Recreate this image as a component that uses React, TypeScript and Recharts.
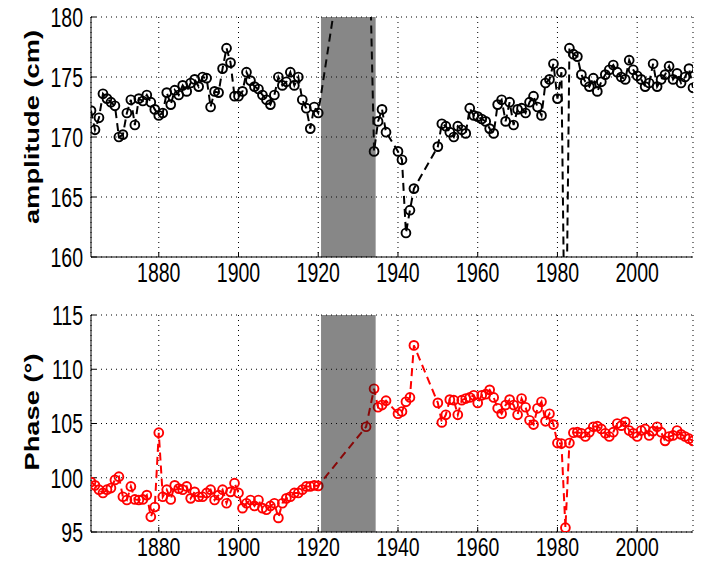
import React from 'react';
import { LineChart, Line, XAxis, YAxis, CartesianGrid, ReferenceArea } from 'recharts';

// consecutive years of a record span
const span = (a: number, b: number) => Array.from({ length: b - a + 1 }, (_, i) => a + i);

const YEARS = [...span(1863, 1920), 1932, ...span(1934, 1937), ...span(1940, 1944), ...span(1950, 2014)];

// amplitude (cm), same order as YEARS
const AMP_EARLY = [
  172.2, 170.6, 171.6, 173.6, 173.2, 172.9, 172.6, 170.0, 170.2, 172.0,
  173.1, 171.0, 173.2, 173.0, 173.5, 172.9, 172.3, 171.8, 172.0, 173.7,
  172.7, 173.9, 173.5, 174.3, 173.8, 174.5, 174.8, 174.2, 175.0, 174.9,
  172.5, 173.8, 173.7, 175.7, 177.4, 176.2, 173.4, 173.4, 173.8, 175.4,
  174.7, 174.2, 174.0, 173.5, 173.1, 172.7, 173.5, 175.0, 174.3, 174.6,
  175.4, 174.3, 175.0, 173.1, 172.4, 170.7, 172.5, 172.0,
];
const AMP_1932 = [198];
const AMP_1934 = [168.8, 171.3, 172.3, 170.4];
const AMP_1940 = [168.8, 168.1, 162.0, 163.9, 165.7];
const AMP_LATE = [
  169.2, 171.1, 170.9, 170.4, 170.0, 170.9, 170.6, 170.3, 172.4, 171.8,
  171.7, 171.5, 171.3, 170.7, 170.3, 172.7, 173.1, 171.3, 172.9, 171.0,
  172.3, 172.4, 172.0, 172.9, 173.4, 172.5, 171.8, 174.5, 174.8, 176.1,
  173.2, 175.4, 147.0, 177.4, 176.9, 176.7, 175.2, 174.6, 174.2, 174.9,
  173.8, 174.6, 175.2, 175.6, 176.0, 175.4, 175.0, 174.8, 176.4, 175.6,
  175.1, 174.8, 174.2, 174.5, 176.1, 174.2, 174.8, 175.2, 175.9, 174.8,
  175.3, 174.5, 175.0, 175.7, 174.1,
];

// phase (degrees)
const PHASE_EARLY = [
  99.6, 99.3, 98.9, 98.6, 98.9, 99.05, 99.8, 100.1, 98.25, 97.95,
  99.2, 98.0, 97.95, 98.0, 98.4, 96.4, 97.3, 104.15, 98.25, 98.9,
  98.0, 99.3, 99.0, 98.9, 99.2, 98.1, 98.7, 98.25, 98.25, 98.6,
  98.9, 97.95, 98.4, 98.9, 97.65, 98.7, 99.5, 98.6, 97.2, 97.65,
  97.95, 97.4, 97.95, 97.2, 97.05, 97.4, 97.65, 96.3, 97.65, 98.1,
  98.25, 98.6, 98.6, 98.9, 99.2, 99.2, 99.3, 99.25,
];
const PHASE_1932 = [104.7];
const PHASE_1934 = [108.2, 106.5, 106.7, 107.1];
const PHASE_1940 = [105.9, 106.1, 107.0, 107.4, 112.2];
const PHASE_LATE = [
  106.9, 105.1, 105.8, 107.2, 107.15, 105.8, 107.15, 107.3, 107.4, 107.6,
  106.9, 107.6, 107.7, 108.1, 107.4, 106.4, 105.9, 106.7, 107.2, 106.7,
  105.8, 107.3, 106.5, 105.3, 104.9, 106.4, 107.0, 105.2, 105.9, 104.9,
  103.2, 103.15, 95.4, 103.2, 104.15, 104.2, 104.1, 103.8, 104.2, 104.7,
  104.75, 104.5, 104.1, 103.8, 104.2, 105.0, 104.8, 105.15, 104.35, 104.1,
  103.8, 104.35, 104.5, 103.9, 104.3, 104.7, 104.2, 103.4, 103.8, 103.9,
  104.35, 104.0, 103.8, 103.6, 103.4,
];

const YEAR_TICKS = [1880, 1900, 1920, 1940, 1960, 1980, 2000];
const AMP_TICKS = [160, 165, 170, 175, 180];
const PHASE_TICKS = [95, 100, 105, 110, 115];

const AMP = [...AMP_EARLY, ...AMP_1932, ...AMP_1934, ...AMP_1940, ...AMP_LATE];
const PHASE = [...PHASE_EARLY, ...PHASE_1932, ...PHASE_1934, ...PHASE_1940, ...PHASE_LATE];
const DATA = YEARS.map((year, i) => ({ year, amp: AMP[i], phase: PHASE[i] }));

const FONT = '"Liberation Sans", Arial, Helvetica, sans-serif';
const STRETCH = 1.4; // the source figure is stretched vertically
const FS = 19.5;

function XTick({ x, y, payload, stretch = STRETCH }: any) {
  return (
    <g transform={`translate(${x},${y}) scale(1,${stretch})`}>
      <text x={0} y={0} dy="0.36em" textAnchor="middle" fontFamily={FONT} fontSize={FS} fill="#000">
        {payload.value}
      </text>
    </g>
  );
}

function YTick({ x, y, payload }: any) {
  return (
    <g transform={`translate(${x},${y}) scale(1,${STRETCH})`}>
      <text x={0} y={0} dy="0.36em" textAnchor="end" fontFamily={FONT} fontSize={FS} fill="#000">
        {payload.value}
      </text>
    </g>
  );
}

const NoTick = () => null;

function Panel({ dataKey, color, domain, ticks, height, xAxisHeight, xTickMargin, xStretch }: any) {
  return (
    <LineChart width={704} height={height} data={DATA} margin={{ top: 17, right: 11, bottom: 0, left: 0 }}>
      <CartesianGrid stroke="#000" strokeDasharray="1 4" />
      <XAxis
        dataKey="year" type="number" domain={[1863, 2014]} ticks={YEAR_TICKS} allowDataOverflow interval={0}
        height={xAxisHeight} tickSize={-5} tickMargin={xTickMargin} tick={<XTick stretch={xStretch} />} stroke="#000"
      />
      <XAxis
        xAxisId="top" orientation="top" dataKey="year" type="number" domain={[1863, 2014]} ticks={YEAR_TICKS}
        allowDataOverflow interval={0} height={0} tickSize={-5} tick={NoTick} stroke="#000"
      />
      <YAxis
        type="number" domain={domain} ticks={ticks} allowDataOverflow interval={0}
        width={91} tickSize={-5} tickMargin={13} tick={<YTick />} stroke="#000"
      />
      <YAxis
        yAxisId="right" orientation="right" type="number" domain={domain} ticks={ticks} allowDataOverflow interval={0}
        width={0} tickSize={-5} tick={NoTick} stroke="#000"
      />
      <Line
        dataKey={dataKey} stroke={color} strokeWidth={2} strokeDasharray="8 5"
        dot={{ r: 4.4, stroke: color, strokeWidth: 1.9, fill: 'none', strokeDasharray: 'none' }}
        isAnimationActive={false}
      />
      <ReferenceArea
        x1={1920.7} x2={1934.4} y1={domain[0]} y2={domain[1]}
        fill="#0f0f0f" fillOpacity={0.5} stroke="none" ifOverflow="hidden" zIndex={1000}
      />
    </LineChart>
  );
}

export default function App() {
  return (
    <div style={{ position: 'absolute', left: 0, top: 0, width: 704, height: 563, background: '#fff', overflow: 'hidden' }}>
      <div style={{ position: 'absolute', left: 0, top: 0 }}>
        <Panel dataKey="amp" color="#000" domain={[160, 180]} ticks={AMP_TICKS} height={290} xAxisHeight={33} xTickMargin={20} xStretch={STRETCH} />
      </div>
      <div style={{ position: 'absolute', left: 0, top: 298 }}>
        <Panel dataKey="phase" color="#ff0000" domain={[95, 115]} ticks={PHASE_TICKS} height={265} xAxisHeight={31} xTickMargin={20} xStretch={1.32} />
      </div>
      <svg width={704} height={563} style={{ position: 'absolute', left: 0, top: 0, pointerEvents: 'none' }}>
        <text
          transform={`translate(32,127) scale(1,${STRETCH}) rotate(-90)`}
          textAnchor="middle" dy="0.36em" fontFamily={FONT} fontWeight="bold" fontSize={FS} fill="#000"
        >
          amplitude (cm)
        </text>
        <text
          transform={`translate(32,412) scale(1,${STRETCH}) rotate(-90)`}
          textAnchor="middle" dy="0.36em" fontFamily={FONT} fontWeight="bold" fontSize={FS} fill="#000"
        >
          Phase (°)
        </text>
      </svg>
    </div>
  );
}
